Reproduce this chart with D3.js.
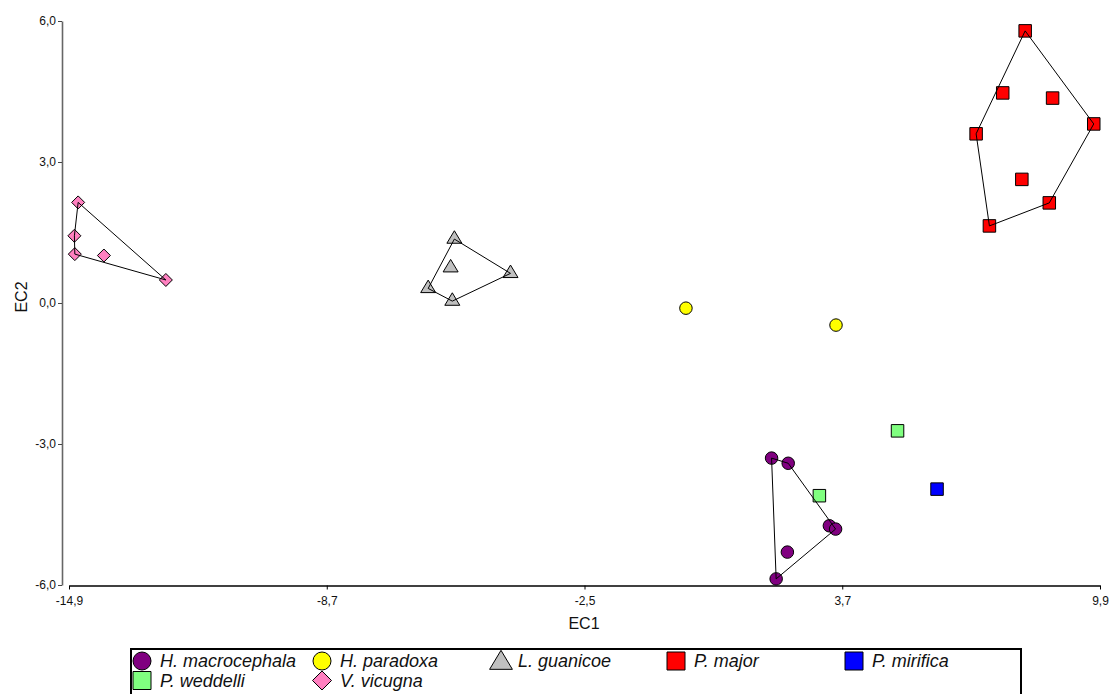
<!DOCTYPE html>
<html>
<head>
<meta charset="utf-8">
<script src="https://cdn.jsdelivr.net/npm/d3@7"></script>
<style>
  html, body { margin: 0; padding: 0; background: #fff; }
  svg { display: block; font-family: "Liberation Sans", Arial, sans-serif; }
</style>
</head>
<body>
<svg id="chart" width="1116" height="694"></svg>
<script>
// Species, in legend order
const species = ["H. macrocephala", "H. paradoxa", "L. guanicoe", "P. major", "P. mirifica", "P. weddelli", "V. vicugna"];
const speciesColors = ["#800080", "#ffff00", "#c0c0c0", "#ff0000", "#0000ff", "#80ff80", "#ff80c0"];
const speciesShapes = ["circle", "circle", "triangle", "square", "square", "square", "diamond"];

// EC1 / EC2 scores per species
const macrocephalaEC1 = [2.00, 2.40, 3.39, 3.54, 2.38, 2.11];
const macrocephalaEC2 = [-3.30, -3.41, -4.74, -4.81, -5.30, -5.87];
const paradoxaEC1 = [-0.06, 3.55];
const paradoxaEC2 = [-0.11, -0.47];
const guanicoeEC1 = [-5.63, -5.72, -6.26, -5.68, -4.28];
const guanicoeEC2 = [1.36, 0.75, 0.31, 0.04, 0.63];
const majorEC1 = [8.10, 7.56, 8.76, 6.92, 9.75, 8.02, 8.68, 7.24];
const majorEC2 = [5.79, 4.47, 4.36, 3.60, 3.81, 2.63, 2.13, 1.64];
const mirificaEC1 = [5.98];
const mirificaEC2 = [-3.96];
const weddelliEC1 = [5.03, 3.15];
const weddelliEC2 = [-2.72, -4.10];
const vicugnaEC1 = [-14.68, -14.77, -14.76, -14.06, -12.57];
const vicugnaEC2 = [2.14, 1.43, 1.04, 1.01, 0.49];

// Axis ticks
const xTicks = [-14.9, -8.7, -2.5, 3.7, 9.9];
const yTicks = [-6, -3, 0, 3, 6];

const groups = [
  [macrocephalaEC1, macrocephalaEC2],
  [paradoxaEC1, paradoxaEC2],
  [guanicoeEC1, guanicoeEC2],
  [majorEC1, majorEC2],
  [mirificaEC1, mirificaEC2],
  [weddelliEC1, weddelliEC2],
  [vicugnaEC1, vicugnaEC2]
].map((g, i) => ({
  name: species[i],
  color: speciesColors[i],
  shape: speciesShapes[i],
  points: g[0].map((v, j) => [v, g[1][j]])
}));

const svg = d3.select("#chart");
const x = d3.scaleLinear().domain([-14.9, 9.9]).range([69, 1100]);
const y = d3.scaleLinear().domain([-6, 6]).range([585, 21]);
const fmt = d => d.toFixed(1).replace(".", ",");

// Marker path for a given shape, centred at 0,0, with s = nominal size in px
function shapePath(shape, s) {
  const h = s / 2;
  switch (shape) {
    case "circle":
      return `M${h},0A${h},${h} 0 1,1 ${-h},0A${h},${h} 0 1,1 ${h},0Z`;
    case "square":
      return `M${-h},${-h}H${h}V${h}H${-h}Z`;
    case "diamond":
      return `M0,${-h}L${h},0L0,${h}L${-h},0Z`;
    case "triangle": {
      const w = s * 0.6, th = s * 0.5;
      return `M0,${-th * 4 / 3}L${w},${th * 2 / 3}L${-w},${th * 2 / 3}Z`;
    }
  }
}
const markerSize = { circle: 12.5, square: 12.5, diamond: 13, triangle: 12.5 };

// Axes
const yAxis = svg.append("g")
  .attr("transform", "translate(62,0)")
  .call(d3.axisLeft(y).tickValues(yTicks).tickFormat(fmt).tickSize(4).tickSizeOuter(0).tickPadding(2));
yAxis.select(".domain").attr("stroke", "#666").attr("stroke-width", 1.6);
yAxis.selectAll(".tick line").attr("stroke", "#444");
yAxis.selectAll("text").attr("font-size", 12).attr("fill", "#111").attr("dy", "0.25em");

const xAxis = svg.append("g")
  .attr("transform", "translate(0,585.5)")
  .call(d3.axisBottom(x).tickValues(xTicks).tickFormat(fmt).tickSize(4).tickSizeOuter(0).tickPadding(7));
xAxis.select(".domain").attr("stroke", "#000").attr("stroke-width", 1.3);
xAxis.selectAll("text").attr("font-size", 12).attr("fill", "#111");

svg.append("text").attr("x", 584).attr("y", 629).attr("text-anchor", "middle")
  .attr("font-size", 16).attr("fill", "#111").text("EC1");
svg.append("text").attr("transform", "translate(27,297) rotate(-90)").attr("text-anchor", "middle")
  .attr("font-size", 16).attr("fill", "#111").text("EC2");

// Points
const pts = svg.append("g");
groups.forEach(g => {
  pts.selectAll(null).data(g.points).enter().append("path")
    .attr("transform", d => `translate(${x(d[0])},${y(d[1])})`)
    .attr("d", shapePath(g.shape, markerSize[g.shape]))
    .attr("fill", g.color)
    .attr("stroke", "#000")
    .attr("stroke-width", 1);
});

// Convex hulls around groups with at least three specimens
const hulls = svg.append("g");
groups.filter(g => g.points.length >= 3).forEach(g => {
  const hull = d3.polygonHull(g.points.map(p => [x(p[0]), y(p[1])]));
  hulls.append("path")
    .attr("d", "M" + hull.join("L") + "Z")
    .attr("fill", "none")
    .attr("stroke", "#000")
    .attr("stroke-width", 1);
});

// Legend
const legend = svg.append("g");
legend.append("rect").attr("x", 131).attr("y", 649).attr("width", 890).attr("height", 60)
  .attr("fill", "#fff").attr("stroke", "#000").attr("stroke-width", 2);
const colX = [142, 322, 501, 676, 854];
const rowY = [661, 680.5];
const legendSize = { circle: 18, square: 18, diamond: 19, triangle: 19 };
groups.forEach((g, i) => {
  const col = i % 5, row = Math.floor(i / 5);
  legend.append("path")
    .attr("transform", `translate(${colX[col]},${rowY[row] + (g.shape === "triangle" ? 2 : 0)})`)
    .attr("d", shapePath(g.shape, legendSize[g.shape]))
    .attr("fill", g.color).attr("stroke", "#000").attr("stroke-width", 1);
  legend.append("text")
    .attr("x", colX[col] + (g.shape === "triangle" ? 17 : 18))
    .attr("y", rowY[row] + 6)
    .attr("font-size", 18).attr("font-style", "italic").attr("fill", "#111")
    .text(g.name);
});
</script>
</body>
</html>
